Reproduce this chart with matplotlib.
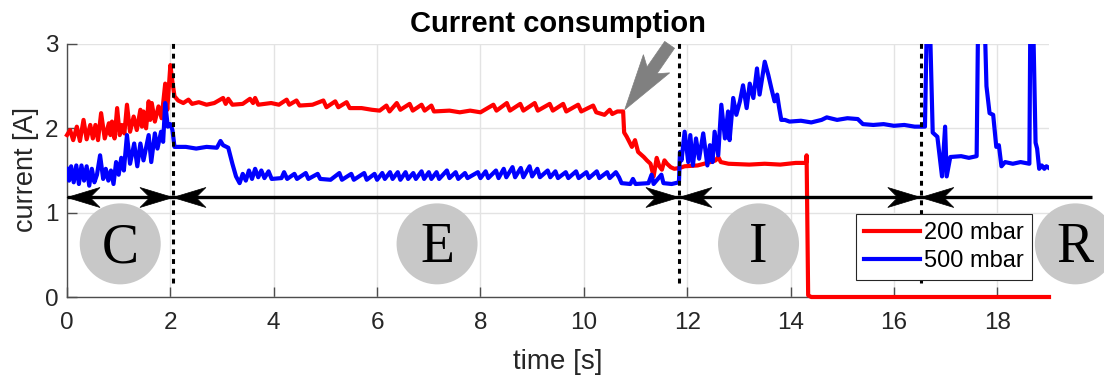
import matplotlib
matplotlib.use("Agg")
import matplotlib.pyplot as plt
from matplotlib.patches import Polygon
from matplotlib.transforms import Affine2D, ScaledTranslation
import numpy as np

# ---------------------------------------------------------------- data
red_time = [
    0.00, 0.06, 0.12, 0.19, 0.25, 0.32, 0.38, 0.45, 0.50, 0.55, 0.60, 0.66,
    0.73, 0.81, 0.84, 0.87, 0.92, 0.97, 1.02, 1.06, 1.11, 1.16, 1.22, 1.29,
    1.35, 1.42, 1.45, 1.48, 1.53, 1.58, 1.61, 1.64, 1.70, 1.77, 1.83, 1.90,
    1.94, 2.00, 2.04, 2.08, 2.15, 2.25, 2.35, 2.42, 2.55, 2.70, 2.85, 3.02,
    3.07, 3.12, 3.20, 3.40, 3.54, 3.60, 3.64, 3.70, 3.95, 4.10, 4.25, 4.30,
    4.44, 4.50, 4.75, 4.96, 5.02, 5.19, 5.25, 5.41, 5.47, 5.70, 5.90, 6.05,
    6.18, 6.24, 6.38, 6.45, 6.63, 6.69, 6.86, 6.92, 7.05, 7.10, 7.40, 7.60,
    7.80, 8.00, 8.25, 8.31, 8.51, 8.57, 8.77, 8.83, 9.05, 9.11, 9.34, 9.40,
    9.60, 9.66, 9.89, 9.95, 10.18, 10.24, 10.40, 10.50, 10.55, 10.65, 10.76,
    10.78, 10.83, 10.93, 10.99, 11.05, 11.16, 11.22, 11.29, 11.35, 11.41,
    11.46, 11.51, 11.56, 11.61, 11.68, 11.75, 11.85, 11.95, 12.20, 12.45,
    12.55, 12.60, 12.65, 12.80, 13.20, 13.50, 13.80, 14.10, 14.30, 14.31,
    14.34, 14.40, 19.00,
]
red_current = [
    1.92, 1.98, 1.86, 2.02, 1.85, 2.10, 1.87, 2.04, 1.88, 2.04, 1.86, 2.18,
    1.88, 2.06, 1.92, 2.08, 1.88, 2.24, 1.92, 2.04, 1.94, 2.28, 1.96, 2.14,
    1.98, 2.22, 2.02, 2.20, 2.00, 2.32, 2.10, 2.30, 2.08, 2.26, 2.12, 2.53,
    2.22, 2.75, 2.55, 2.38, 2.33, 2.30, 2.34, 2.29, 2.31, 2.28, 2.30, 2.36,
    2.29, 2.35, 2.28, 2.29, 2.35, 2.30, 2.36, 2.28, 2.30, 2.28, 2.34, 2.28,
    2.33, 2.27, 2.28, 2.33, 2.25, 2.32, 2.25, 2.31, 2.24, 2.24, 2.22, 2.21,
    2.27, 2.20, 2.30, 2.22, 2.29, 2.21, 2.28, 2.21, 2.27, 2.20, 2.21, 2.19,
    2.21, 2.19, 2.28, 2.21, 2.30, 2.21, 2.29, 2.21, 2.30, 2.21, 2.29, 2.21,
    2.29, 2.20, 2.28, 2.20, 2.27, 2.19, 2.16, 2.22, 2.17, 2.20, 2.20,
    1.95, 1.90, 1.78, 1.86, 1.72, 1.66, 1.62, 1.58, 1.43, 1.65,
    1.55, 1.51, 1.62, 1.58, 1.54, 1.52, 1.53, 1.55, 1.56, 1.60,
    1.62, 1.66, 1.60, 1.58, 1.57, 1.58, 1.57, 1.59, 1.59, 1.68,
    0.02, 0.00, 0.00,
]

blue_time = [
    0.00, 0.04, 0.08, 0.13, 0.18, 0.23, 0.28, 0.33, 0.38, 0.43, 0.48, 0.53,
    0.58, 0.64, 0.70, 0.75, 0.80, 0.85, 0.90, 0.95, 1.00, 1.05, 1.10, 1.16,
    1.22, 1.30, 1.36, 1.42, 1.48, 1.58, 1.63, 1.70, 1.75, 1.82, 1.86, 1.90,
    1.95, 2.00, 2.04, 2.08, 2.30, 2.50, 2.70, 2.90, 2.97, 3.02, 3.12, 3.20,
    3.27, 3.34, 3.40, 3.46, 3.52, 3.58, 3.64, 3.70, 3.76, 3.82, 3.90, 3.96,
    4.15, 4.20, 4.26, 4.40, 4.45, 4.62, 4.67, 4.85, 4.90, 5.10, 5.27, 5.32,
    5.50, 5.55, 5.75, 5.80, 5.95, 6.00, 6.10, 6.15, 6.25, 6.30, 6.40, 6.45,
    6.55, 6.60, 6.70, 6.75, 6.86, 6.91, 7.00, 7.05, 7.15, 7.20, 7.35, 7.40,
    7.52, 7.57, 7.70, 7.75, 7.95, 8.00, 8.10, 8.15, 8.30, 8.35, 8.45, 8.50,
    8.62, 8.67, 8.78, 8.83, 8.95, 9.00, 9.10, 9.15, 9.30, 9.35, 9.45, 9.50,
    9.65, 9.70, 9.85, 9.90, 10.05, 10.10, 10.25, 10.30, 10.45, 10.50, 10.62,
    10.68, 10.73, 10.90, 10.95, 11.00, 11.25, 11.31, 11.35, 11.50, 11.54,
    11.70, 11.84, 11.86, 11.89, 11.95, 12.02, 12.06, 12.11, 12.17, 12.23,
    12.31, 12.39, 12.44, 12.49, 12.53, 12.60, 12.66, 12.73, 12.79, 12.82,
    12.89, 12.95, 13.02, 13.08, 13.15, 13.21, 13.28, 13.35, 13.40, 13.50,
    13.57, 13.63, 13.69, 13.74, 13.78, 13.82, 13.89, 13.98, 14.20, 14.40,
    14.60, 14.70, 14.90, 15.10, 15.30, 15.40, 15.60, 15.80, 16.00, 16.20,
    16.40, 16.60, 16.64, 16.69, 16.75, 16.84, 16.93, 16.99, 17.02, 17.09,
    17.30, 17.45, 17.60, 17.63, 17.75, 17.79, 17.85, 17.92, 17.98, 18.03,
    18.08, 18.15, 18.30, 18.45, 18.62, 18.64, 18.69, 18.74, 18.77, 18.81,
    18.86, 18.91, 18.95, 19.00,
]
blue_current = [
    1.52, 1.38, 1.55, 1.36, 1.56, 1.34, 1.56, 1.38, 1.55, 1.32, 1.52, 1.36,
    1.45, 1.68, 1.40, 1.52, 1.38, 1.50, 1.34, 1.60, 1.45, 1.65, 1.50, 1.92,
    1.58, 1.82, 1.55, 1.82, 1.62, 1.92, 1.60, 1.94, 1.76, 1.96, 1.84, 2.30,
    2.02, 2.05, 1.98, 1.78, 1.78, 1.76, 1.78, 1.77, 1.85, 1.80, 1.77, 1.58,
    1.43, 1.35, 1.46, 1.38, 1.50, 1.40, 1.52, 1.42, 1.50, 1.41, 1.49, 1.40,
    1.41, 1.48, 1.40, 1.46, 1.40, 1.47, 1.40, 1.46, 1.40, 1.39, 1.47, 1.39,
    1.46, 1.39, 1.47, 1.39, 1.46, 1.39, 1.47, 1.40, 1.48, 1.40, 1.48, 1.39,
    1.48, 1.40, 1.47, 1.40, 1.49, 1.40, 1.48, 1.40, 1.48, 1.40, 1.50, 1.41,
    1.48, 1.40, 1.47, 1.41, 1.48, 1.41, 1.49, 1.41, 1.50, 1.41, 1.52, 1.42,
    1.54, 1.42, 1.53, 1.42, 1.55, 1.43, 1.52, 1.42, 1.50, 1.42, 1.49, 1.41,
    1.48, 1.41, 1.49, 1.41, 1.48, 1.41, 1.49, 1.41, 1.48, 1.41, 1.48,
    1.42, 1.35, 1.34, 1.40, 1.34, 1.35, 1.45, 1.34, 1.45, 1.35,
    1.34, 1.36, 1.72, 1.62, 1.96, 1.60, 1.92, 1.56, 1.88, 1.64,
    1.94, 1.56, 1.80, 1.60, 1.96, 1.68, 2.28, 1.88, 2.20, 1.86,
    2.36, 2.16, 2.32, 2.51, 2.24, 2.53, 2.36, 2.71, 2.40, 2.79,
    2.63, 2.47, 2.32, 2.40, 2.24, 2.10, 2.10, 2.08, 2.09, 2.07,
    2.10, 2.13, 2.10, 2.12, 2.11, 2.05, 2.04, 2.05, 2.03, 2.04,
    2.02, 2.02, 3.40, 3.40, 1.95, 1.90, 1.43, 2.02, 1.43, 1.66,
    1.67, 1.65, 1.67, 3.40, 3.40, 2.50, 2.18, 2.16, 1.78, 1.80,
    1.55, 1.60, 1.58, 1.60, 1.58, 3.40, 3.40, 1.83, 1.76, 1.52,
    1.56, 1.52, 1.55, 1.53,
]

series_labels = ["200 mbar", "500 mbar"]
phase_names = ["C", "E", "I", "R"]
phase_edges = [0.0, 2.05, 11.84, 16.52]        # phase boundaries [s]
phase_label_time = [1.03, 7.16, 13.38, 19.51]   # centre of each phase badge
phase_arrow_end = 19.83
phase_arrow_level = 1.18
badge_level = 0.63
pointer_tip = (10.79, 2.22)
pointer_tail = (11.66, 2.99)

# ---------------------------------------------------------------- style
plt.rcParams["font.family"] = ["Liberation Sans", "DejaVu Sans"]
TXT = "#262626"
AXC = "#4d4d4d"

fig = plt.figure(figsize=(11.04, 3.78), dpi=100)
ax = fig.add_axes([67 / 1104, 1 - 297 / 378, 982 / 1104, 253 / 378])

ax.plot(red_time, red_current, color="#ff0000", lw=3.0, label=series_labels[0],
        clip_on=False, zorder=3, solid_joinstyle="round")
ax.plot(blue_time, blue_current, color="#0000ff", lw=3.0, label=series_labels[1],
        zorder=4, solid_joinstyle="round")

ax.set_xlim(0, 19)
ax.set_ylim(0, 3)
ax.set_xticks(np.arange(0, 19, 2))
ax.set_yticks([0, 1, 2, 3])
ax.grid(True, color="#e3e3e3", lw=1.0, zorder=0)
ax.set_axisbelow(True)
for side in ("top", "right"):
    ax.spines[side].set_visible(False)
for side in ("left", "bottom"):
    ax.spines[side].set_color(AXC)
    ax.spines[side].set_linewidth(1.0)
ax.tick_params(direction="in", length=7, width=1.0, color=AXC,
               labelsize=17.5, labelcolor=TXT)
ax.tick_params(axis="x", pad=11)
ax.tick_params(axis="y", pad=6)

ax.set_xlabel("time [s]", fontsize=20, color=TXT)
ax.set_ylabel("current [A]", fontsize=19.5, color=TXT)
ax.xaxis.set_label_coords(0.5, -0.205)
ax.yaxis.set_label_coords(-0.029, 0.505)
ax.set_title("Current consumption", fontsize=21, fontweight="bold",
             color="black", pad=9)

# phase separators
for xb in phase_edges[1:]:
    ax.plot([xb, xb], [0.17, 3.05], color="black", lw=2.2,
            ls=(0, (1.6, 1.6)), clip_on=False, zorder=5)

# phase span line
ax.plot([phase_edges[0], phase_arrow_end], [phase_arrow_level] * 2,
        color="black", lw=2.4, clip_on=False, zorder=6, solid_capstyle="butt")


def arrow_head(x, y, angle, length, half_w, notch, shaft_len=0.0,
               shaft_hw=0.0, color="black", z=7):
    """Concave-backed arrow head (sizes in pixels) with its tip at (x, y)."""
    if shaft_len > 0:
        verts = [(0, 0), (-length, half_w), (-length + notch, shaft_hw),
                 (-shaft_len, shaft_hw), (-shaft_len, -shaft_hw),
                 (-length + notch, -shaft_hw), (-length, -half_w)]
    else:
        verts = [(0, 0), (-length, half_w), (-length + notch, 0),
                 (-length, -half_w)]
    tr = (Affine2D().rotate_deg(angle).scale(1.0 / fig.dpi)
          + fig.dpi_scale_trans + ScaledTranslation(x, y, ax.transData))
    ax.add_patch(Polygon(verts, closed=True, transform=tr, facecolor=color,
                         edgecolor=color, lw=0.5, clip_on=False, zorder=z))


# heads: left end, then both sides of every separator
arrow_head(phase_edges[0], phase_arrow_level, 180, 33, 10, 10)
for xb in phase_edges[1:]:
    arrow_head(xb, phase_arrow_level, 0, 33, 10, 10)
    arrow_head(xb, phase_arrow_level, 180, 33, 10, 10)

# gray pointer towards the drop of the 200 mbar curve
p0 = ax.transData.transform(pointer_tail)
p1 = ax.transData.transform(pointer_tip)
ang = np.degrees(np.arctan2(p1[1] - p0[1], p1[0] - p0[0]))
total = float(np.hypot(*(p1 - p0)))
arrow_head(pointer_tip[0], pointer_tip[1], ang, 56, 16, 8,
           shaft_len=total, shaft_hw=6, color="#808080", z=8)

# phase badges
ax.scatter(phase_label_time, [badge_level] * len(phase_names), s=3400,
           color="#c8c8c8", edgecolors="none", clip_on=False, zorder=2)
for name, xt in zip(phase_names, phase_label_time):
    ax.annotate(name, (xt, badge_level), xytext=(0, -13.3),
                textcoords="offset points", ha="center", va="baseline",
                fontsize=40, family=["Liberation Serif", "DejaVu Serif"],
                color="black", annotation_clip=False, zorder=9)

leg = ax.legend(loc="lower right", bbox_to_anchor=(0.983, 0.067),
                borderaxespad=0, fontsize=17, frameon=True, fancybox=False,
                framealpha=1, edgecolor=TXT, handlelength=2.35,
                handletextpad=0.2, labelspacing=0.25, borderpad=0.35)
leg.get_frame().set_linewidth(0.8)
leg.set_zorder(10)
for t in leg.get_texts():
    t.set_color("black")

fig.savefig("out.png", dpi=100)
